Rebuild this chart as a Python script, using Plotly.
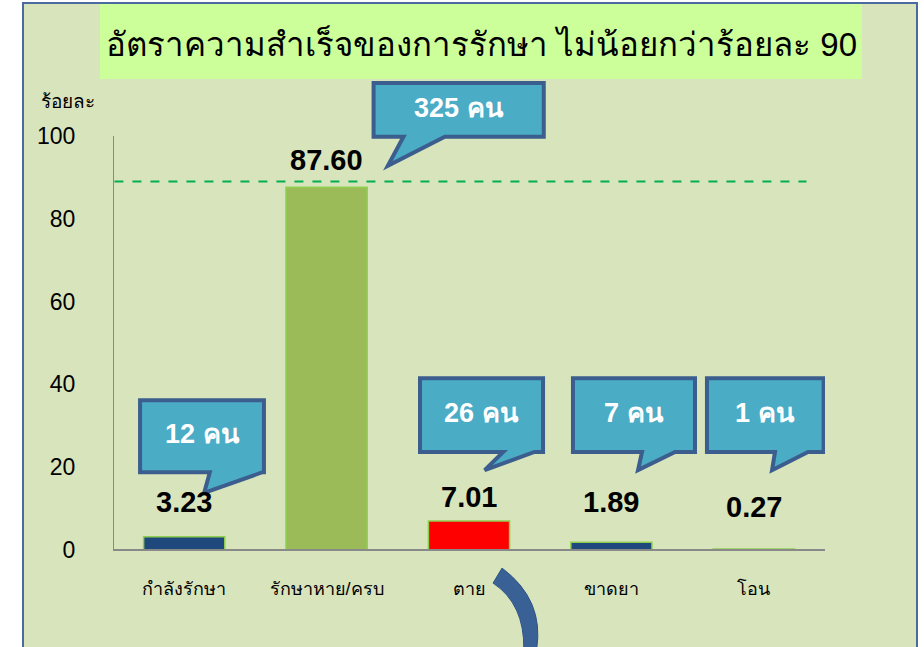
import plotly.graph_objects as go

# ---- data ----
categories = ["กำลังรักษา", "รักษาหาย/ครบ", "ตาย", "ขาดยา", "โอน"]
percent = [3.23, 87.60, 7.01, 1.89, 0.27]
counts = [12, 325, 26, 7, 1]
y_ticks = [0, 20, 40, 60, 80, 100]
target_line = 89
title_text = "อัตราความสำเร็จของการรักษา ไม่น้อยกว่าร้อยละ 90"
y_title = "ร้อยละ"

# ---- styles ----
bar_colors = ["#1f497d", "#9bbb59", "#ff0000", "#1f497d", "#1f497d"]
FONT = "Liberation Sans, Arial, DejaVu Sans, sans-serif"
W, H = 924, 647
ML, MR, MT, MB = 113, 99, 3, 0
YMIN, YMAX = -23.4, 132.1
PW, PH = W - ML - MR, H - MT - MB


def px(x):
    return (x - ML) / PW


def py(y):
    return (H - y) / PH


fig = go.Figure()
fig.add_trace(go.Bar(
    x=list(range(len(categories))), y=percent, width=0.57,
    marker=dict(color=bar_colors, line=dict(color="#8fcf50", width=1.5)),
    hoverinfo="skip", showlegend=False,
))

shapes = []
# panel background
shapes.append(dict(type="rect", xref="paper", yref="paper", x0=px(23), x1=px(917), y0=py(660), y1=py(3),
                   fillcolor="#d8e4bc", line=dict(color="#4a6aa0", width=2), layer="below"))
# title box
shapes.append(dict(type="rect", xref="paper", yref="paper", x0=px(100), x1=px(862), y0=py(79), y1=py(4),
                   fillcolor="#ccff99", line=dict(width=0), layer="below"))
# y axis line
shapes.append(dict(type="line", xref="x", yref="y", x0=-0.5, x1=-0.5, y0=0, y1=100,
                   line=dict(color="#898989", width=2)))
# target dashed line
shapes.append(dict(type="line", xref="x", yref="y", x0=-0.49, x1=4.37, y0=target_line, y1=target_line,
                   line=dict(color="#00b050", width=1.8, dash="dash")))

# callouts (box x0,x1,y_top,y_bottom, base left, base right, tip x, tip y)
callouts = [
    (-0.31, 0.56, 36.2, 18.8, 0.18, 0.55, 0.14, 13.8),
    (1.33, 2.525, 112.8, 99.8, 1.54, 1.83, 1.43, 92.8),
    (1.656, 2.52, 41.5, 23.7, 2.24, 2.46, 2.11, 19.3),
    (2.73, 3.587, 41.5, 23.7, 3.215, 3.447, 3.187, 19.3),
    (3.671, 4.49, 41.5, 23.7, 4.149, 4.381, 4.128, 19.3),
]
for (x0, x1, yt, yb, bl, br, tx, ty), n in zip(callouts, counts):
    path = (f"M {x0},{yt} L {x1},{yt} L {x1},{yb} L {br},{yb} L {tx},{ty} "
            f"L {bl},{yb} L {x0},{yb} Z")
    shapes.append(dict(type="path", xref="x", yref="y", path=path,
                       fillcolor="#4bacc6", line=dict(color="#3b5e8f", width=4)))

# curved arrow under "ตาย"
shapes.append(dict(type="path", xref="x", yref="y",
                   path="M 2.232,-4.35 Q 2.53,-12 2.475,-24 L 2.385,-24 Q 2.39,-13 2.169,-7.97 Z",
                   fillcolor="#3a6196", line=dict(color="#2f5384", width=1)))

annotations = []
annotations.append(dict(xref="paper", yref="paper", x=px(481), y=py(44), text=title_text, showarrow=False,
                        font=dict(family=FONT, size=33, color="#000000"), xanchor="center", yanchor="middle"))
annotations.append(dict(xref="paper", yref="paper", x=px(68), y=py(101), text=y_title, showarrow=False,
                        font=dict(family=FONT, size=19, color="#000000"), xanchor="center", yanchor="middle"))

label_shift = [35, 27, 24, 40, 42]
for i, (v, s) in enumerate(zip(percent, label_shift)):
    annotations.append(dict(xref="x", yref="y", x=i, y=v, yshift=s, text=f"<b>{v:.2f}</b>", showarrow=False,
                            font=dict(family=FONT, size=29, color="#000000"), xanchor="center", yanchor="middle"))

for (x0, x1, yt, yb, bl, br, tx, ty), n in zip(callouts, counts):
    annotations.append(dict(xref="x", yref="y", x=(x0 + x1) / 2, y=(yt + yb) / 2 + 0.5, text=f"<b>{n} คน</b>",
                            showarrow=False, font=dict(family=FONT, size=27, color="#ffffff"),
                            xanchor="center", yanchor="middle"))

fig.update_layout(
    width=W, height=H, margin=dict(l=ML, r=MR, t=MT, b=MB, autoexpand=False),
    paper_bgcolor="#ffffff", plot_bgcolor="rgba(0,0,0,0)",
    shapes=shapes, annotations=annotations, showlegend=False,
    xaxis=dict(range=[-0.5, 4.5], tickvals=list(range(len(categories))), ticktext=categories,
               anchor="free", position=(0 - YMIN) / (YMAX - YMIN),
               showline=True, linecolor="#898989", linewidth=2, showgrid=False, zeroline=False,
               ticks="outside", ticklen=22, tickcolor="rgba(0,0,0,0)",
               tickfont=dict(family=FONT, size=18, color="#000000")),
    yaxis=dict(range=[YMIN, YMAX], tickvals=y_ticks, showgrid=False, zeroline=False, showline=False,
               ticks="outside", ticklen=32, tickcolor="rgba(0,0,0,0)",
               tickfont=dict(family=FONT, size=23, color="#000000")),
)

fig.write_html("out.html", config={"displayModeBar": False},
               post_script="document.body.style.margin='0';")
